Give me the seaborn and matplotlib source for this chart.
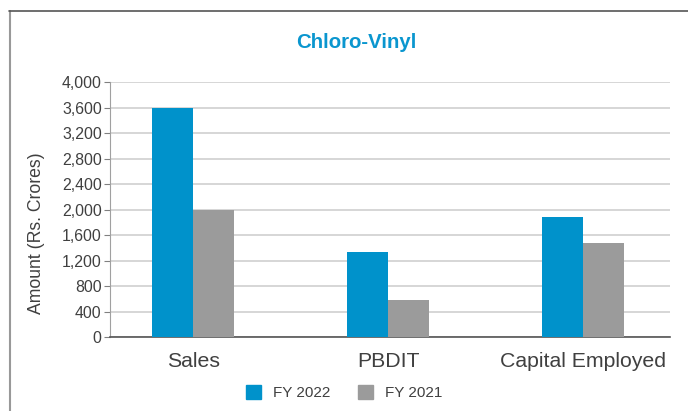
import matplotlib
matplotlib.use("Agg")
import matplotlib.pyplot as plt
import pandas as pd
import seaborn as sns
from matplotlib.patches import Rectangle
from matplotlib.ticker import FuncFormatter, MultipleLocator

# Chart data (Rs. Crores)
categories = ["Sales", "PBDIT", "Capital Employed"]
fy2022 = [3600, 1340, 1885]
fy2021 = [1995, 575, 1480]
series = ["FY 2022", "FY 2021"]
colors = ["#0092CB", "#9B9B9B"]

df = pd.DataFrame({
    "category": categories * 2,
    "year": [series[0]] * 3 + [series[1]] * 3,
    "amount": fy2022 + fy2021,
})

sns.set_theme(style="white")
plt.rcParams["font.family"] = ["Liberation Sans", "DejaVu Sans"]
text_col = "#404040"

fig = plt.figure(figsize=(6.88, 4.11), dpi=100)
ax = fig.add_axes([0.160, 0.180, 0.814, 0.620])

sns.barplot(data=df, x="category", y="amount", hue="year", palette=colors,
            width=0.42, gap=0, saturation=1, legend=False, linewidth=0,
            ax=ax, zorder=3)

ax.set_xlim(-0.426, 2.446)
ax.set_ylim(0, 4000)
ax.yaxis.set_major_locator(MultipleLocator(400))
ax.yaxis.set_major_formatter(FuncFormatter(lambda v, p: f"{int(v):,}"))
ax.grid(axis="y", color="#D0D0D0", linewidth=1.2, zorder=0)
ax.set_axisbelow(True)

for s in ["top", "right"]:
    ax.spines[s].set_visible(False)
ax.spines["left"].set_color("#A0A0A0")
ax.spines["left"].set_linewidth(0.8)
ax.spines["bottom"].set_color("#555555")
ax.spines["bottom"].set_linewidth(1.2)

ax.tick_params(axis="y", left=True, length=4, width=0.8, color="#808080",
               labelsize=11.4, labelcolor=text_col, pad=2)
ax.tick_params(axis="x", bottom=False, labelsize=15.3, labelcolor=text_col, pad=5)
ax.set_xlabel("")
ax.set_ylabel("Amount (Rs. Crores)", fontsize=12.7, color=text_col)
ax.yaxis.set_label_coords(-0.116, 0.408)

fig.text(0.518, 0.883, "Chloro-Vinyl", ha="center", va="baseline", fontsize=14.7,
         fontweight="bold", color="#0A96CF")

# legend
handles = [Rectangle((0, 0), 1, 1, color=c) for c in colors]
fig.legend(handles, series, loc="center", bbox_to_anchor=(0.5005, 0.044), ncol=2,
           frameon=False, fontsize=11, handlelength=0.95, handleheight=0.95,
           columnspacing=1.8, handletextpad=0.8, labelcolor=text_col)

# outer frame (left and top edges)
fig.add_artist(plt.Line2D([0.0145, 0.0145], [0, 0.973], color="#999999", linewidth=1.5))
fig.add_artist(plt.Line2D([0.0135, 1.0], [0.973, 0.973], color="#555555", linewidth=1.2))

plt.savefig("out.png", dpi=100)
